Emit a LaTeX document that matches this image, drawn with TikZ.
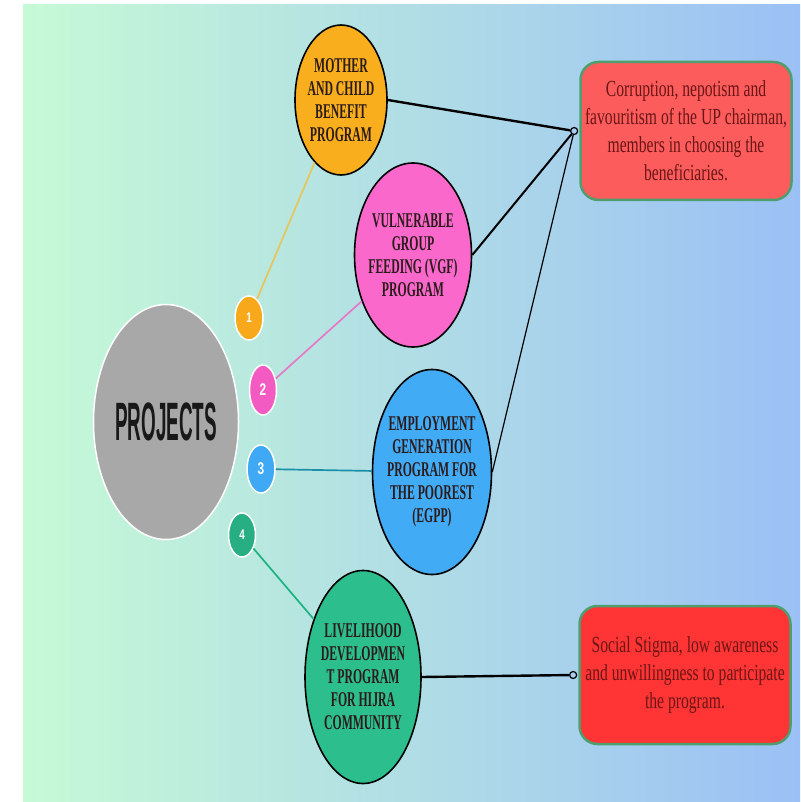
\documentclass[tikz,border=0pt]{standalone}
\usepackage{fontspec}
\usetikzlibrary{shapes.geometric,positioning}
\newfontfamily\capsfont[FakeStretch=0.56]{Liberation Serif}
\newfontfamily\notefont[FakeStretch=0.68]{Liberation Serif}
\newfontfamily\headfont[FakeStretch=0.35]{Liberation Sans}
\newfontfamily\numfont[FakeStretch=0.7]{Liberation Sans}
\definecolor{bgleft}{HTML}{C6FAD6}
\definecolor{bgright}{HTML}{9BC0F5}
\definecolor{projgray}{HTML}{A8A8A8}
\definecolor{mothercol}{HTML}{F9AE1D}
\definecolor{vgfcol}{HTML}{FA68CC}
\definecolor{egppcol}{HTML}{42ABF5}
\definecolor{livecol}{HTML}{2DBE8D}
\definecolor{onecol}{HTML}{F7A81B}
\definecolor{twocol}{HTML}{F35BC2}
\definecolor{threecol}{HTML}{3FA9F5}
\definecolor{fourcol}{HTML}{27AE82}
\definecolor{oneline}{HTML}{E6C65A}
\definecolor{twoline}{HTML}{E878C8}
\definecolor{threeline}{HTML}{1B8FA8}
\definecolor{fourline}{HTML}{1EB283}
\definecolor{progtext}{HTML}{2B1B1B}
\definecolor{redone}{HTML}{FC5C5C}
\definecolor{redtwo}{HTML}{FF3434}
\definecolor{boxedge}{HTML}{4E9E6E}
\definecolor{notetext}{HTML}{6B1616}
\definecolor{jfill}{HTML}{A8CCF0}

\begin{document}
\begin{tikzpicture}[x=1pt,y=-1pt,
    prog/.style={ellipse,draw=black,line width=1.6pt,inner xsep=-20pt,inner ysep=0pt,
                 align=center,text=progtext,font=\capsfont\bfseries\fontsize{21}{23}\selectfont},
    num/.style={ellipse,draw=white,line width=1.5pt,inner sep=0pt,text=white,
                font=\numfont\bfseries\fontsize{17}{17}\selectfont},
    issue/.style={draw=boxedge,line width=2.5pt,rounded corners=18pt,minimum width=211pt,
                  minimum height=138pt,align=center,text=notetext,
                  font=\notefont\fontsize{23}{28}\selectfont},
    jdot/.style={circle,draw=black,line width=1.2pt,fill=jfill,inner sep=0pt,minimum size=7pt},
    link/.style={line width=2.4pt}]
    \useasboundingbox (0,0) rectangle (800,802);
    \shade[left color=bgleft,right color=bgright] (23,5) rectangle (800,802);

    \node[ellipse,fill=projgray,draw=white,line width=1.5pt,minimum width=145pt,
          minimum height=235pt,inner sep=0pt,text=black!90,
          font=\headfont\bfseries\fontsize{54}{54}\selectfont] (proj) at (166,422) {PROJECTS};

    \node[num,fill=onecol,minimum width=28pt,minimum height=44pt,
          font=\numfont\bfseries\fontsize{14}{14}\selectfont] (n1) at (249,318) {1};
    \node[num,fill=twocol,minimum width=27pt,minimum height=50pt] (n2) at (263,390) {2};
    \node[num,fill=threecol,minimum width=28pt,minimum height=48pt] (n3) at (261,469) {3};
    \node[num,fill=fourcol,minimum width=27pt,minimum height=44pt,
          font=\numfont\bfseries\fontsize{14}{14}\selectfont] (n4) at (242,535) {4};

    \node[prog,fill=mothercol,minimum width=92pt,minimum height=150pt] (mother) at (341,100)
        {MOTHER\\AND CHILD\\BENEFIT\\PROGRAM};
    \node[prog,fill=vgfcol,minimum width=117pt,minimum height=184pt] (vgf) at (413,255)
        {VULNERABLE\\GROUP\\FEEDING (VGF)\\PROGRAM};
    \node[prog,fill=egppcol,minimum width=119pt,minimum height=205pt] (egpp) at (432,472)
        {EMPLOYMENT\\GENERATION\\PROGRAM FOR\\THE POOREST\\(EGPP)};
    \node[prog,fill=livecol,minimum width=116pt,minimum height=213pt] (live) at (363,677)
        {LIVELIHOOD\\DEVELOPMEN\\T PROGRAM\\FOR HIJRA\\COMMUNITY};

    \node[issue,fill=redone] (bad1) at (686,131)
        {Corruption, nepotism and\\favouritism of the UP chairman,\\members in choosing the\\beneficiaries.};
    \node[issue,fill=redtwo] (bad2) at (685,675)
        {Social Stigma, low awareness\\and unwillingness to participate\\the program.};
    \node[jdot,left=1pt of bad1.west] (j1) {};
    \node[jdot,left=1pt of bad2.west] (j2) {};

    \draw[line width=1.7pt,oneline] (n1) -- (mother);
    \draw[line width=1.7pt,twoline] (n2) -- (vgf);
    \draw[line width=1.7pt,threeline] (n3) -- (egpp);
    \draw[line width=1.7pt,fourline] (n4) -- (live);

    \draw[link] (mother.east) -- (j1);
    \draw[link,line width=2pt] (vgf.east) -- (j1);
    \draw[line width=1.2pt] (egpp.east) -- (j1);
    \draw[link] (live.east) -- (j2);
\end{tikzpicture}
\end{document}
